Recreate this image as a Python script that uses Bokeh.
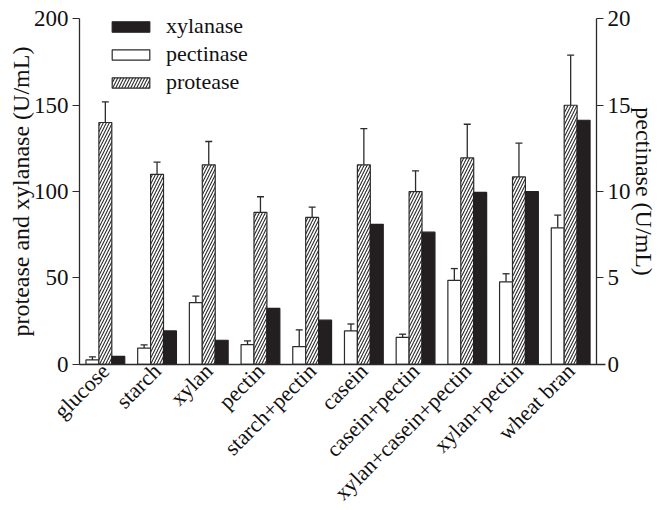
from math import pi
from bokeh.plotting import figure
from bokeh.models import (ColumnDataSource, Range1d, LinearAxis, FixedTicker,
                          Whisker, TeeHead, Legend, LegendItem, Label)
from bokeh.transform import dodge
from bokeh.embed import file_html
from bokeh.resources import INLINE

categories = ["glucose", "starch", "xylan", "pectin", "starch+pectin", "casein",
              "casein+pectin", "xylan+casein+pectin", "xylan+pectin", "wheat bran"]
protease = [140, 110, 115.5, 88, 85, 115.5, 100, 119.5, 108.5, 150]
protease_err = [12, 7, 13.5, 9, 6, 21, 12, 19.5, 19.5, 29]
xylanase = [4.5, 19.3, 13.9, 32.3, 25.5, 81, 76.5, 99.5, 100, 141.3]
pectinase = [0.25, 0.93, 3.57, 1.14, 1.02, 1.93, 1.55, 4.86, 4.77, 7.9]
pectinase_err = [0.18, 0.19, 0.38, 0.21, 0.97, 0.4, 0.19, 0.68, 0.47, 0.73]
left_ticks = [0, 50, 100, 150, 200]
right_ticks = [0, 5, 10, 15, 20]
left_title = "protease and xylanase (U/mL)"
right_title = "pectinase (U/mL)"

FONT = "Liberation Serif"
INK = "#2b2b2b"
TXT = "#111111"

slots = list(range(len(categories)))          # one slot per category on the x scale

src = ColumnDataSource(dict(
    slot=slots,
    protease=protease,
    prot_up=[v + e for v, e in zip(protease, protease_err)],
    xylanase=xylanase,
    pectinase=pectinase,
    pect_up=[v + e for v, e in zip(pectinase, pectinase_err)],
))

# The frame spans the whole canvas; every axis sits at a fixed location and is bounded.
p = figure(x_range=Range1d(-2.028, 10.699), y_range=Range1d(-82.4, 210.66),
           width=658, height=506, output_backend="svg", toolbar_location=None,
           min_border_left=0, min_border_right=0, min_border_top=0, min_border_bottom=0)
p.extra_y_ranges = {"pect": Range1d(-8.24, 21.066)}
p.xgrid.visible = False
p.ygrid.visible = False
p.outline_line_color = None
p.background_fill_color = "white"

w = 0.25
white = p.vbar(x=dodge("slot", -0.25), top="pectinase", width=w, source=src,
               y_range_name="pect", fill_color="white", line_color=INK, line_width=1.2)
hatched = p.vbar(x=dodge("slot", 0.0), top="protease", width=w, source=src,
                 fill_color="white", line_color=INK, line_width=1.2,
                 hatch_pattern="/", hatch_color=INK, hatch_scale=6, hatch_weight=1.1)
black = p.vbar(x=dodge("slot", 0.25), top="xylanase", width=w, source=src,
               fill_color="#231f20", line_color="#231f20", line_width=1.2)

wk1 = Whisker(source=src, base=dodge("slot", -0.25), lower="pectinase", upper="pect_up",
              y_range_name="pect", line_color=INK, line_width=1.3,
              upper_head=TeeHead(size=7, line_color=INK, line_width=1.3), lower_head=None)
wk2 = Whisker(source=src, base=dodge("slot", 0.0), lower="protease", upper="prot_up",
              line_color=INK, line_width=1.3,
              upper_head=TeeHead(size=7, line_color=INK, line_width=1.3), lower_head=None)
p.add_layout(wk1)
p.add_layout(wk2)

# x axis drawn at y = 0, category names as its tick labels
ax = p.xaxis[0]
ax.fixed_location = 0
ax.bounds = (-0.5, 9.67)
ax.ticker = FixedTicker(ticks=slots)
ax.major_label_overrides = {s: c for s, c in zip(slots, categories)}
ax.major_label_orientation = pi / 4
ax.major_tick_line_color = None
ax.major_tick_out = 0
ax.major_tick_in = 0
ax.minor_tick_line_color = None
ax.axis_line_color = INK
ax.axis_line_width = 1.3
ax.major_label_text_font = FONT
ax.major_label_text_font_size = "22px"
ax.major_label_text_color = TXT
ax.major_label_standoff = 3

ly = p.yaxis[0]
ly.ticker = FixedTicker(ticks=left_ticks)
ly.bounds = (0, 200)
ly.fixed_location = -0.5

ry = LinearAxis(y_range_name="pect", ticker=FixedTicker(ticks=right_ticks), bounds=(0, 20),
                fixed_location=9.5)
p.add_layout(ry, "right")

for a in (ly, ry):
    a.minor_tick_line_color = None
    a.major_tick_out = 7
    a.major_tick_in = 0
    a.major_tick_line_color = INK
    a.major_tick_line_width = 1.2
    a.axis_line_color = INK
    a.axis_line_width = 1.3
    a.major_label_text_font = FONT
    a.major_label_text_font_size = "23px"
    a.major_label_text_color = TXT
    a.major_label_standoff = 4

# axis titles, centred on the 0-200 span
p.add_layout(Label(x=20, x_units="screen", y=100, text=left_title, angle=pi / 2,
                   text_align="center", text_baseline="middle",
                   text_font=FONT, text_font_size="24px", text_color=TXT))
p.add_layout(Label(x=643, x_units="screen", y=100, text=right_title, angle=-pi / 2,
                   text_align="center", text_baseline="middle",
                   text_font=FONT, text_font_size="24px", text_color=TXT))

legend = Legend(items=[LegendItem(label="xylanase", renderers=[black]),
                       LegendItem(label="pectinase", renderers=[white]),
                       LegendItem(label="protease", renderers=[hatched])],
                location=(107, 411), orientation="vertical",
                glyph_width=47, glyph_height=13, label_standoff=12, spacing=2, padding=0, margin=0,
                label_text_font=FONT, label_text_font_size="22px", label_text_color=TXT,
                border_line_color=None, background_fill_alpha=0)
p.add_layout(legend)

open("out.html", "w").write(file_html(p, INLINE))
